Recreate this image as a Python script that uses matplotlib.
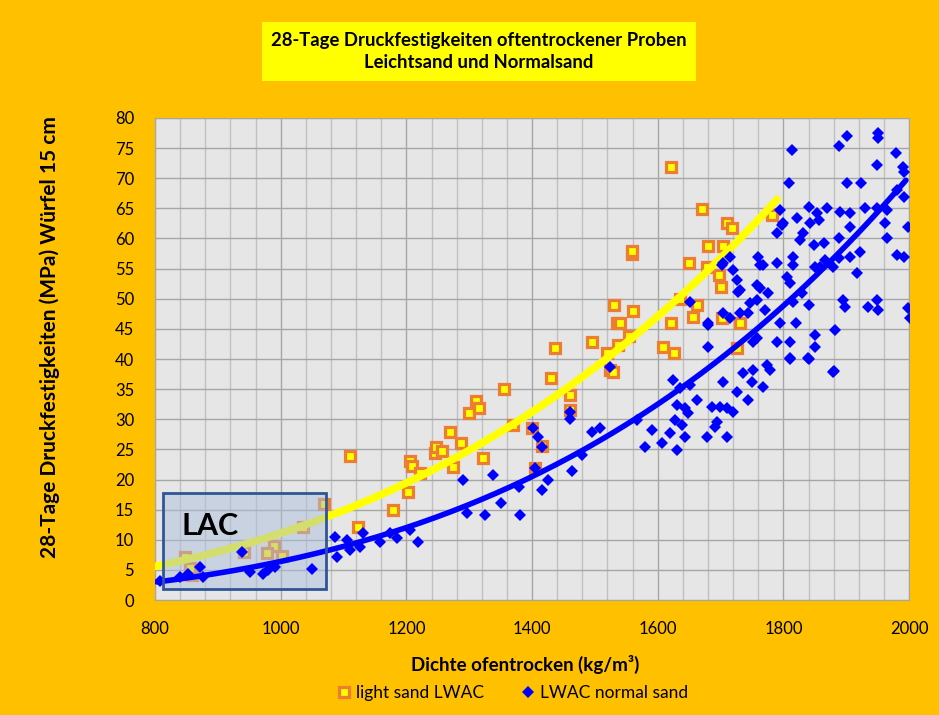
import numpy as np
import matplotlib
matplotlib.use("Agg")
import matplotlib.pyplot as plt
from matplotlib.patches import Rectangle
from matplotlib.ticker import MultipleLocator

plt.rcParams["font.family"] = ["Lato", "DejaVu Sans"]

# light sand LWAC (density kg/m3, strength MPa)
light_x = [848, 859, 856, 942, 989, 978, 1002, 1036, 1069, 1110, 1123, 1179,
           1206, 1203, 1209, 1222, 1246, 1247, 1257, 1269, 1274, 1287, 1300,
           1311, 1316, 1322, 1355, 1370, 1400, 1405, 1416, 1430, 1437, 1460,
           1460, 1495, 1519, 1524, 1529, 1530, 1535, 1537, 1540, 1554, 1559,
           1559, 1561, 1608, 1621, 1621, 1626, 1636, 1650, 1656, 1662, 1670,
           1679, 1680, 1698, 1700, 1702, 1704, 1710, 1718, 1726, 1731, 1782]
light_y = [7.1, 4.1, 5.3, 8.0, 9.0, 7.8, 7.3, 12.1, 15.9, 23.9, 12.1, 14.9,
           23.0, 17.9, 22.3, 21.1, 24.4, 25.4, 24.7, 27.9, 22.1, 26.0, 31.0,
           33.0, 31.9, 23.6, 35.0, 29.0, 28.5, 21.9, 25.6, 36.8, 41.8, 34.0,
           31.5, 42.8, 41.0, 38.2, 37.8, 49.0, 46.0, 42.3, 46.0, 43.8, 57.4,
           58.0, 48.0, 42.0, 71.9, 46.0, 41.0, 50.0, 55.9, 47.0, 49.0, 64.9,
           55.3, 58.8, 53.9, 52.0, 46.8, 58.8, 62.6, 61.7, 41.8, 46.0, 63.9]

# LWAC normal sand
normal_x = [808, 840, 853, 872, 876, 938, 951, 972, 980, 991, 1050, 1087, 1090,
            1105, 1110, 1126, 1131, 1158, 1174, 1185, 1206, 1219, 1290, 1297,
            1325, 1338, 1351, 1379, 1381, 1401, 1410, 1416, 1405, 1416, 1426,
            1464, 1480, 1460, 1460, 1495, 1508, 1524, 1567, 1580, 1591, 1607,
            1620, 1631, 1624, 1636, 1651, 1662, 1631, 1643, 1627, 1638, 1648,
            1644, 1680, 1680, 1704, 1686, 1699, 1710, 1694, 1691, 1679, 1710,
            1720, 1726, 1744, 1736, 1752, 1750, 1758, 1811, 1839, 1850, 1879,
            1774, 1768, 1901, 1889, 1951, 1951, 1814, 1980, 1949, 1990, 1992,
            1809, 1901, 1924, 1981, 1992, 1795, 1840, 1870, 1890, 1906, 1930,
            1949, 1965, 1999, 1822, 1853, 1798, 1790, 1831, 1842, 1857, 1827,
            1848, 1864, 1888, 1906, 1962, 1965, 1922, 1888, 1906, 1866, 1850,
            1815, 1815, 1760, 1763, 1790, 1806, 1811, 1758, 1858, 1879, 1981,
            1992, 1917, 1763, 1776, 1758, 1816, 1840, 1895, 1898, 1935, 1949,
            1951, 1999, 2001, 1795, 1820, 1882, 1790, 1811, 1850, 1811, 1841,
            1881, 1779, 1800, 1715, 1702, 1720, 1726, 1728, 1768, 1747, 1652,
            1704, 1715, 1731, 1744, 1771, 1680, 1830, 1752, 1704, 1731]
normal_y = [3.2, 3.8, 4.4, 5.5, 3.9, 8.0, 4.7, 4.4, 5.0, 5.5, 5.1, 10.5, 7.2,
            10.0, 8.3, 8.8, 11.1, 9.6, 11.1, 10.3, 11.6, 9.6, 19.9, 14.4,
            14.1, 20.7, 16.1, 18.8, 14.1, 28.5, 27.0, 25.4, 21.9, 18.3, 19.9,
            21.4, 24.1, 31.2, 30.0, 27.9, 28.5, 38.7, 29.9, 25.4, 28.2, 26.1,
            27.7, 24.9, 36.5, 35.2, 35.7, 33.2, 32.4, 31.9, 29.9, 29.0, 31.0,
            27.1, 42.0, 45.6, 36.2, 32.0, 32.0, 31.9, 29.5, 28.7, 27.1, 27.1,
            31.2, 34.5, 33.2, 37.7, 38.2, 36.2, 43.5, 40.2, 40.2, 42.0, 37.8,
            39.0, 35.4, 77.0, 75.4, 77.5, 76.7, 74.7, 74.2, 72.2, 71.9, 71.0,
            69.2, 69.2, 69.2, 68.0, 66.9, 64.7, 65.2, 65.0, 64.4, 64.2, 65.0,
            65.0, 64.7, 61.9, 63.4, 64.2, 62.2, 60.9, 60.9, 62.6, 63.1, 59.8,
            58.9, 59.3, 60.0, 61.9, 62.5, 60.0, 57.8, 56.7, 57.0, 56.4, 55.3,
            57.0, 55.6, 57.0, 55.6, 56.0, 53.6, 52.6, 52.3, 55.3, 55.3, 57.3,
            57.0, 54.3, 51.8, 51.0, 49.8, 49.5, 49.0, 49.8, 48.6, 48.6, 49.8,
            48.1, 48.5, 46.8, 46.0, 46.0, 44.8, 42.8, 42.8, 44.0, 40.0, 40.0,
            38.0, 38.2, 62.6, 57.0, 55.6, 54.8, 53.1, 51.1, 55.6, 49.3, 49.5,
            47.6, 46.8, 47.6, 47.6, 48.1, 46.0, 51.0, 42.8, 55.9, 51.5]

# power trendlines y = a * (x / x0) ** b, coefficients
light_trend = (810, 5.8, 3.076, 800, 1790)
normal_trend = (803, 3.0, 3.456, 803, 1995)

fig = plt.figure(figsize=(9.39, 7.15), dpi=100, facecolor="#FFC000")
ax = fig.add_axes([0.1651, 0.1608, 0.8030, 0.6742])
ax.set_facecolor("#E6E6E6")

ax.set_xlim(800, 2000)
ax.set_ylim(0, 80)
ax.xaxis.set_major_locator(MultipleLocator(200))
ax.xaxis.set_minor_locator(MultipleLocator(40))
ax.yaxis.set_major_locator(MultipleLocator(5))
ax.grid(which="major", color="#A6A6A6", lw=1.0, zorder=0)
ax.grid(which="minor", axis="x", color="#C0C0C0", lw=1.0, zorder=0)
ax.set_axisbelow(True)
for s in ax.spines.values():
    s.set_color("#A6A6A6")
ax.tick_params(which="both", length=0, labelsize=12)
ax.tick_params(axis="y", pad=15)
ax.tick_params(axis="x", pad=15)

ax.plot(light_x, light_y, ls="none", marker="s", markersize=7.5,
        markerfacecolor="#FFFF00", markeredgecolor="#ED7D31",
        markeredgewidth=2.3, zorder=3, label="light sand LWAC")

x0, a, b, xs, xe = light_trend
xx = np.linspace(xs, xe, 200)
ax.plot(xx, a * (xx / x0) ** b, color="#FFFF00", lw=5.5,
        solid_capstyle="round", zorder=4)

# LAC box fill sits above the light sand series, below the normal sand series
ax.add_patch(Rectangle((813, 1.8), 259, 16.0, facecolor=(0.67, 0.75, 0.86),
                       alpha=0.5, edgecolor="none", zorder=4.5))

ax.plot(normal_x, normal_y, ls="none", marker="D", markersize=6.5,
        color="#0000FF", markeredgewidth=0, zorder=5, label="LWAC normal sand")

x0, a, b, xs, xe = normal_trend
xx = np.linspace(xs, xe, 200)
ax.plot(xx, a * (xx / x0) ** b, color="#0000FF", lw=4,
        solid_capstyle="round", zorder=6)

ax.add_patch(Rectangle((813, 1.8), 259, 16.0, facecolor="none",
                       edgecolor="#2F5597", lw=2, zorder=8))
ax.text(842, 12.3, "LAC", fontsize=22, fontweight="bold", color="black",
        va="center", ha="left", zorder=9)

fig.text(0.510, 0.928, "28-Tage Druckfestigkeiten oftentrockener Proben\nLeichtsand und Normalsand",
         ha="center", va="center", fontsize=13.3, fontweight="bold",
         linespacing=1.4,
         bbox=dict(boxstyle="square,pad=0.5", facecolor="#FFFF00", edgecolor="none"))

fig.text(0.559, 0.070, "Dichte ofentrocken (kg/m³)", ha="center", va="center",
         fontsize=13.5, fontweight="bold")
fig.text(0.053, 0.528, "28-Tage Druckfestigkeiten (MPa) Würfel 15 cm",
         ha="center", va="center", rotation=90, fontsize=15, fontweight="bold")

fig.legend(loc="center", bbox_to_anchor=(0.545, 0.031), ncol=2, frameon=False,
           fontsize=12.5, handletextpad=0.2, columnspacing=2.0, handlelength=1.0)

fig.savefig("out.png", dpi=100, facecolor=fig.get_facecolor())
